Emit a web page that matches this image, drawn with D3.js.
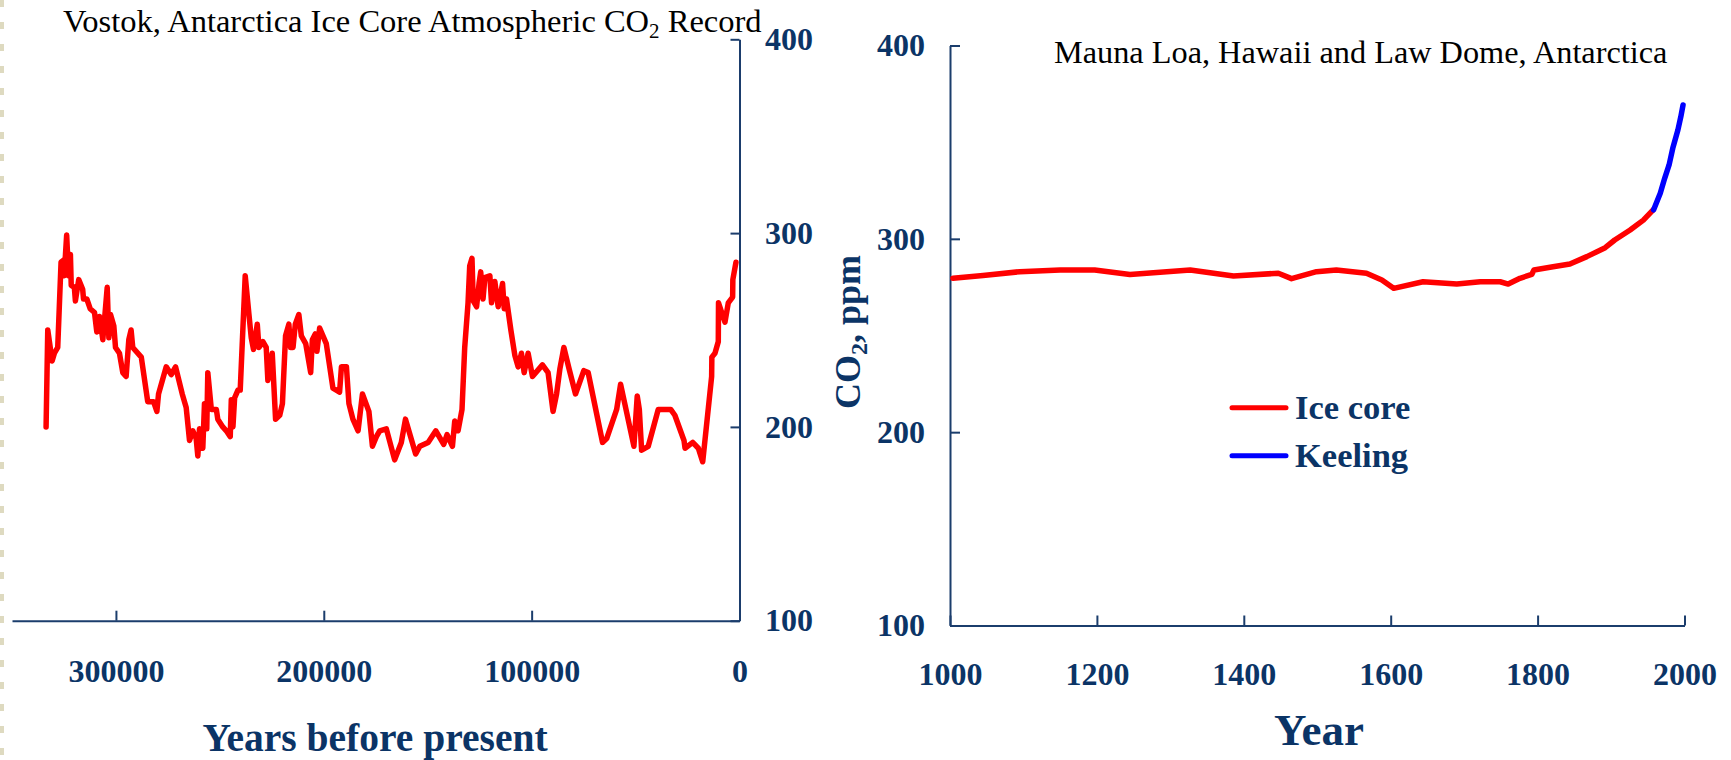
<!DOCTYPE html>
<html>
<head>
<meta charset="utf-8">
<script src="https://cdn.jsdelivr.net/npm/d3@7/dist/d3.min.js"></script>
<style>
  html, body { margin: 0; padding: 0; background: #ffffff; }
  svg { display: block; }
  .serif { font-family: "Liberation Serif", "Times New Roman", serif; }
</style>
</head>
<body>
<svg id="chart" width="1731" height="760"></svg>
<script>
// ---------- DATA ----------
// Vostok ice core: years before present and CO2 (ppm)
const vostokYears = [333600,332800,330700,329600,328000,326400,325300,324900,323700,322800,321900,321500,320000,319500,317900,316000,315600,314000,312400,310300,309200,307900,306300,304200,303400,302600,301000,300200,298300,296700,295100,293800,292700,291900,287800,284700,281900,280300,279500,275800,273400,271300,268100,266200,264600,263000,261400,260600,259800,258200,257400,256300,255800,254100,251700,251000,248600,246900,245000,244500,243700,242900,241300,240200,237800,236000,234900,233800,232000,231200,229300,227700,226900,226100,224800,223200,221200,219900,218400,216800,216000,214800,213700,212000,210800,208700,206300,205500,204100,203300,202000,198800,195600,192400,191500,189100,187900,186000,183500,181400,178300,176600,174700,173100,169900,165900,162700,160700,155800,153800,149800,146100,142300,140700,138100,137000,135400,133500,132200,130600,129800,128700,128100,126500,125300,124500,123400,122500,120100,119300,117700,116100,114000,113200,112100,110000,108100,106500,104900,103600,101700,99600,94800,92100,89700,88000,86400,84500,82000,78900,74900,72800,65900,63900,59100,57200,50800,49200,48200,47100,43900,39100,33100,31100,26700,26200,22500,19800,17700,13400,13300,11800,10200,10100,7000,5400,3300,3200,1700];
const vostokCO2 = [200,250,234,238,241,285,286,278,299,278,289,273,272,265,276,271,266,266,261,259,249,257,245,272,246,258,252,241,238,228,226,245,250,241,236,213,213,208,217,231,227,231,217,210,193,198,194,185,199,189,212,199,228,209,209,204,200,198,195,214,200,215,219,219,278,258,246,240,253,241,244,241,224,230,238,204,206,212,247,253,241,241,253,258,247,243,228,245,248,239,251,243,220,218,231,231,212,204,198,217,208,190,195,198,199,183,192,204,186,190,192,198,191,196,190,203,198,209,241,264,283,287,265,262,274,280,266,277,278,264,275,262,274,261,266,250,237,231,238,228,238,226,232,228,208,217,230,241,230,217,229,228,192,194,209,222,190,216,209,188,190,209,209,206,193,189,192,189,182,226,236,238,244,264,254,264,267,276,285];

// Law Dome ice core (year AD, CO2 ppm)
const iceYears = [1004,1045,1095,1150,1197,1245,1327,1386,1447,1465,1499,1526,1567,1588,1604,1644,1690,1722,1749,1760,1776,1792,1795,1821,1844,1867,1892,1905,1926,1944,1957];
const iceCO2 = [279.6,281,283,283.9,283.9,281.6,283.9,280.8,282.2,279.4,283,283.9,282.2,278.7,274.4,277.8,276.6,277.8,277.8,276.6,279.6,281.6,283.9,285.6,287,290.8,295.4,299.4,304.6,309.7,314.9];

// Mauna Loa (Keeling) record
const keelingYears = [1958,1967,1973,1979,1984,1991,1995,1998];
const keelingCO2 = [315,323.6,331.3,338.2,346.8,356.3,363.2,369.2];

// Ticks and labels
const co2Ticks = [100,200,300,400];
const bpTicks = [300000,200000,100000,0];
const yearTicks = [1000,1200,1400,1600,1800,2000];
const legendLabels = ["Ice core","Keeling"];
const leftTitle = ["Vostok, Antarctica Ice Core Atmospheric CO", "2", " Record"];
const rightTitle = "Mauna Loa, Hawaii and Law Dome, Antarctica";

// ---------- STYLE ----------
const NAVY = "#0b3466";
const AXIS = "#1b3d6c";
const FONT = '"Liberation Serif", "Times New Roman", serif';

const svg = d3.select("#chart");

// decorative beige dashed strip at far left
svg.append("line")
  .attr("x1", 2).attr("x2", 2).attr("y1", 0).attr("y2", 760)
  .attr("stroke", "#dedac0").attr("stroke-width", 4)
  .attr("stroke-dasharray", "7 15");

// ---------- LEFT CHART ----------
const xL = d3.scaleLinear().domain([350000, 0]).range([12, 739.5]);
const yL = d3.scaleLinear().domain([100, 400]).range([620.7, 39.3]);

function styleAxis(g, size) {
  g.selectAll("path.domain").attr("stroke", AXIS).attr("stroke-width", 2);
  g.selectAll(".tick line").attr("stroke", AXIS).attr("stroke-width", 2);
  g.selectAll(".tick text")
    .attr("fill", NAVY)
    .style("font-family", FONT)
    .style("font-weight", "bold")
    .style("font-size", size + "px");
}

const gxL = svg.append("g")
  .attr("transform", "translate(0,620.7)")
  .call(d3.axisBottom(xL).tickValues(bpTicks).tickFormat(d3.format("d"))
        .tickSizeInner(-10).tickSizeOuter(0).tickPadding(38.6));
styleAxis(gxL, 32);

const gyL = svg.append("g")
  .attr("transform", "translate(739.5,0)")
  .call(d3.axisRight(yL).tickValues(co2Ticks).tickFormat(d3.format("d"))
        .tickSizeInner(-9).tickSizeOuter(0).tickPadding(25.5));
styleAxis(gyL, 32);

const lineL = d3.line().x((d, i) => xL(vostokYears[i])).y(d => yL(d));
svg.append("path")
  .attr("d", lineL(vostokCO2))
  .attr("fill", "none").attr("stroke", "#ff0000").attr("stroke-width", 5.5)
  .attr("stroke-linejoin", "round").attr("stroke-linecap", "round");

// left title
const tL = svg.append("text").attr("class", "serif")
  .attr("x", 63).attr("y", 32)
  .attr("fill", "#000").style("font-size", "32.5px");
tL.append("tspan").text(leftTitle[0]);
tL.append("tspan").attr("dy", 6).style("font-size", "21px").text(leftTitle[1]);
tL.append("tspan").attr("dy", -6).text(leftTitle[2]);

// left x label
svg.append("text").attr("class", "serif")
  .attr("x", 375).attr("y", 751).attr("text-anchor", "middle")
  .attr("fill", NAVY).style("font-weight", "bold").style("font-size", "39.5px")
  .text("Years before present");

// ---------- RIGHT CHART ----------
const xR = d3.scaleLinear().domain([1000, 2000]).range([950, 1684.5]);
const yR = d3.scaleLinear().domain([100, 400]).range([625.5, 45.5]);

const gxR = svg.append("g")
  .attr("transform", "translate(0,625.5)")
  .call(d3.axisBottom(xR).tickValues(yearTicks).tickFormat(d3.format("d"))
        .tickSizeInner(-10).tickSizeOuter(0).tickPadding(36.8));
styleAxis(gxR, 32);

const gyR = svg.append("g")
  .attr("transform", "translate(950,0)")
  .call(d3.axisLeft(yR).tickValues(co2Ticks).tickFormat(d3.format("d"))
        .tickSizeInner(-10).tickSizeOuter(0).tickPadding(25));
styleAxis(gyR, 32);

const lineIce = d3.line().x((d, i) => xR(iceYears[i])).y(d => yR(d));
const lineKeel = d3.line().x((d, i) => xR(keelingYears[i])).y(d => yR(d));

svg.append("path")
  .attr("d", lineIce(iceCO2))
  .attr("fill", "none").attr("stroke", "#ff0000").attr("stroke-width", 5.5)
  .attr("stroke-linejoin", "round").attr("stroke-linecap", "round");
svg.append("path")
  .attr("d", lineKeel(keelingCO2))
  .attr("fill", "none").attr("stroke", "#0000ff").attr("stroke-width", 5.5)
  .attr("stroke-linejoin", "round").attr("stroke-linecap", "round");

// right title
svg.append("text").attr("class", "serif")
  .attr("x", 1054).attr("y", 63)
  .attr("fill", "#000").style("font-size", "32.3px")
  .text(rightTitle);

// right y label
const yLab = svg.append("text").attr("class", "serif")
  .attr("transform", "translate(860,332) rotate(-90)")
  .attr("text-anchor", "middle")
  .attr("fill", NAVY).style("font-weight", "bold").style("font-size", "36px");
yLab.append("tspan").text("CO");
yLab.append("tspan").attr("dy", 7).style("font-size", "24px").text("2");
yLab.append("tspan").attr("dy", -7).text(", ppm");

// right x label
svg.append("text").attr("class", "serif")
  .attr("x", 1319).attr("y", 745).attr("text-anchor", "middle")
  .attr("fill", NAVY).style("font-weight", "bold").style("font-size", "45px")
  .text("Year");

// legend
const legColors = ["#ff0000", "#0000ff"];
const legY = [407.7, 455.7];
legendLabels.forEach((lab, i) => {
  svg.append("line")
    .attr("x1", 1232).attr("x2", 1286).attr("y1", legY[i]).attr("y2", legY[i])
    .attr("stroke", legColors[i]).attr("stroke-width", 5).attr("stroke-linecap", "round");
  svg.append("text").attr("class", "serif")
    .attr("x", 1295).attr("y", legY[i] + 11.5)
    .attr("fill", NAVY).style("font-weight", "bold").style("font-size", "34.5px")
    .text(lab);
});
</script>
</body>
</html>
